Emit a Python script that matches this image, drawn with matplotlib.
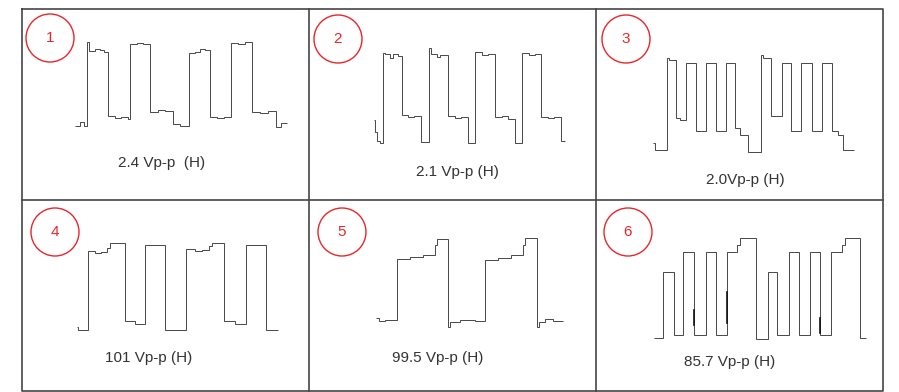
import matplotlib
matplotlib.use("Agg")
import matplotlib.pyplot as plt
from matplotlib.patches import Circle

plt.rcParams['font.family'] = ['Liberation Sans', 'DejaVu Sans']

# waveform data: step edges (time) and levels
p1_t = [0, 5, 9, 12, 14, 20, 25, 29, 33, 40, 46, 53, 55, 62, 68, 75, 83, 90, 98, 105,
        114, 120, 125, 130, 135, 142, 149, 156, 163, 170, 177, 185, 193, 201, 206, 212]
p1_v = [1, 5, 1, 85, 76, 78, 77, 75, 11, 9, 10, 8, 83, 84, 83, 15, 17, 16, 3, 1,
        74, 75, 78, 77, 10, 9, 10, 84, 83, 85, 15, 14, 16, 0, 4]

p2_t = [0, 1, 3, 6, 9, 11, 16, 19, 24, 28, 34, 40, 47, 55, 57, 63, 66, 74, 81, 87,
        94, 101, 108, 114, 121, 128, 134, 141, 148, 155, 161, 167, 174, 180, 187, 191]
p2_v = [23, 11, 2, 0, 90, 89, 85, 89, 87, 28, 26, 27, 1, 95, 89, 86, 88, 27, 25, 26,
        0, 91, 88, 89, 26, 27, 24, 0, 90, 88, 89, 26, 25, 26, 2]

p3_t = [0, 2, 14, 16, 23, 27, 33, 43, 53, 63, 73, 82, 87, 95, 108, 110, 118, 129, 138,
        148, 159, 169, 179, 185, 190, 201]
p3_v = [9, 2, 94, 92, 34, 32, 89, 21, 89, 21, 89, 24, 17, 0, 97, 94, 36, 89, 21, 89,
        21, 89, 21, 17, 2]

p4_t = [0, 1, 11, 18, 24, 30, 33, 48, 58, 68, 88, 109, 118, 125, 132, 135, 147, 158,
        169, 189, 201]
p4_v = [3, 0, 79, 77, 78, 82, 87, 9, 6, 85, 0, 81, 79, 80, 84, 87, 9, 6, 85, 0]

p5_t = [0, 3, 9, 21, 34, 47, 59, 61, 72, 74, 84, 99, 109, 122, 135, 147, 149, 161,
        163, 169, 177, 187]
p5_v = [9, 6, 7, 68, 70, 72, 82, 88, 0, 5, 7, 6, 67, 69, 72, 82, 89, 0, 5, 8, 6]

p6_t = [0, 9, 20, 29, 40, 52, 62, 73, 83, 86, 102, 114, 123, 135, 145, 156, 166, 177,
        188, 191, 206, 212]
p6_v = [1, 67, 4, 87, 4, 87, 4, 87, 94, 101, 0, 67, 4, 87, 4, 87, 4, 87, 94, 101, 1]
# heavier bits on some edges of trace 6
p6_mark_t = [40, 73, 166]
p6_mark_lo = [14, 16, 6]
p6_mark_hi = [29, 47, 21]

labels = ["2.4 Vp-p  (H)", "2.1 Vp-p (H)", "2.0Vp-p (H)",
          "101 Vp-p (H)", "99.5 Vp-p (H)", "85.7 Vp-p (H)"]
numbers = ["1", "2", "3", "4", "5", "6"]

traces = [(p1_t, p1_v), (p2_t, p2_v), (p3_t, p3_v),
          (p4_t, p4_v), (p5_t, p5_v), (p6_t, p6_v)]

# layout in pixels: trace origin, label centre, circle centre
origins = [(75, 127), (374, 143), (653, 152), (77, 330), (376, 327), (654, 339)]
label_xy = [(162, 163), (457, 172), (745, 180), (149, 358), (438, 358), (730, 362)]
circle_xy = [(50, 38), (338, 39), (626, 39), (55, 232), (342, 232), (628, 232)]

fig = plt.figure(figsize=(8.99, 3.92), dpi=100)
ax = fig.add_axes([0, 0, 1, 1])
ax.set_xlim(0, 899)
ax.set_ylim(392, 0)
ax.axis('off')

# table grid
grid_c = '#454545'
ax.plot([22, 883, 883, 22, 22], [9, 9, 391, 391, 9], color=grid_c, lw=1.2)
ax.plot([22, 883], [200, 200], color=grid_c, lw=1.2)
ax.plot([309, 309], [9, 391], color=grid_c, lw=1.2)
ax.plot([596, 596], [9, 391], color=grid_c, lw=1.2)

for i, (t, v) in enumerate(traces):
    x0, yb = origins[i]
    ax.stairs([yb - a for a in v], [x0 + b for b in t], baseline=None,
              color='#2a2a2a', lw=0.6)
    cx, cy = circle_xy[i]
    ax.add_patch(Circle((cx, cy), 24, fill=False, edgecolor='#e8262a', lw=1.0))
    ax.text(cx, cy, numbers[i], color='#e8262a', fontsize=11,
            ha='center', va='center')
    lx, ly = label_xy[i]
    ax.text(lx, ly, labels[i], color='#333333', fontsize=11,
            ha='center', va='center')

x0, yb = origins[5]
for t, lo, hi in zip(p6_mark_t, p6_mark_lo, p6_mark_hi):
    ax.plot([x0 + t, x0 + t], [yb - lo, yb - hi], color='#111111', lw=1.2)

fig.savefig('out.png', dpi=100)
